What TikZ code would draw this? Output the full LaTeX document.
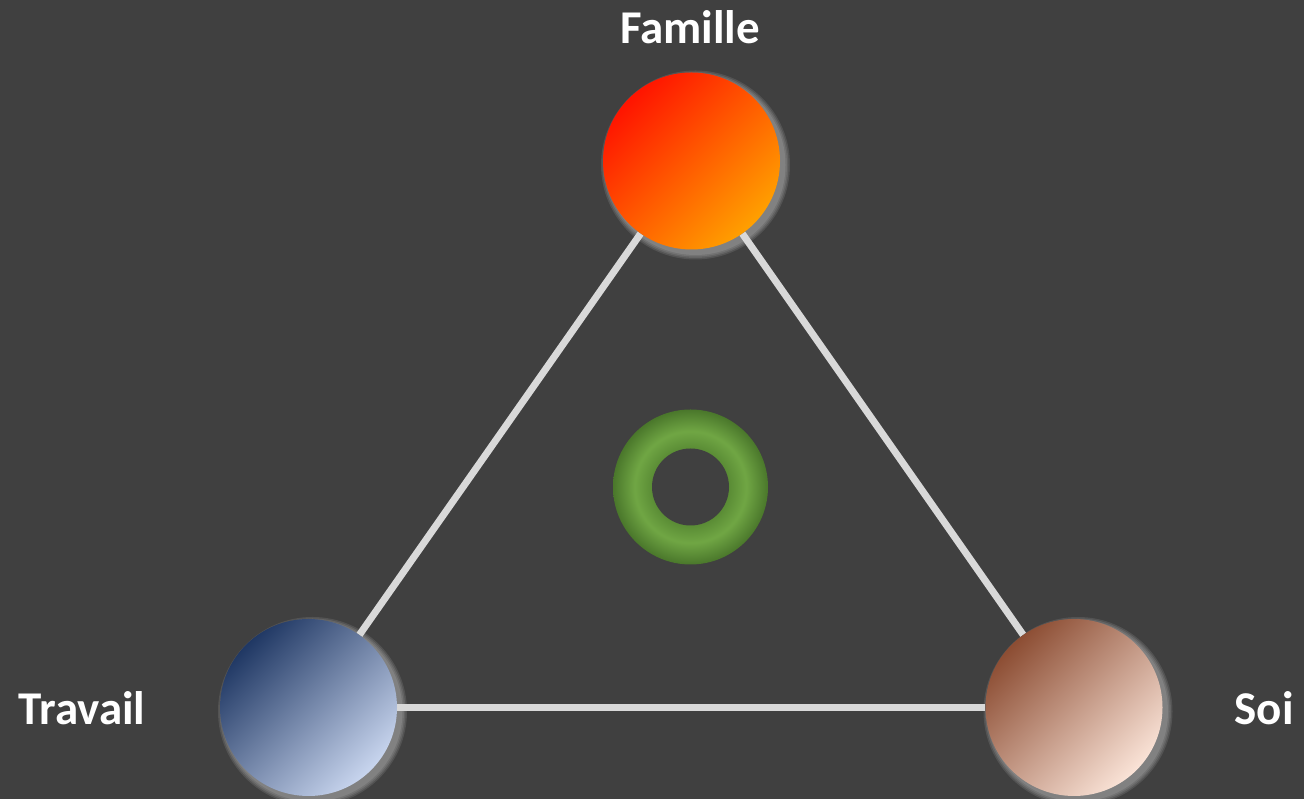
\documentclass[tikz,border=0pt]{standalone}
\usepackage{fontspec}
\setmainfont{Carlito}
\usetikzlibrary{backgrounds}
\definecolor{BgGrey}{HTML}{404040}
\definecolor{LinkGrey}{HTML}{D9D9D9}
\definecolor{FamRed}{HTML}{FF1400}
\definecolor{FamOrange}{HTML}{FFA000}
\definecolor{TravDark}{HTML}{203864}
\definecolor{TravLight}{HTML}{C8D5EE}
\definecolor{SoiDark}{HTML}{8C4D33}
\definecolor{SoiLight}{HTML}{FAE3D7}
\definecolor{RingDark}{HTML}{4A772B}
\definecolor{RingMid}{HTML}{5A8C35}
\definecolor{RingLight}{HTML}{70A644}
\pgfdeclareradialshading{greenring}{\pgfpoint{0bp}{0bp}}{%
  color(0bp)=(RingMid); color(12.4bp)=(RingMid); color(18bp)=(RingLight);
  color(25bp)=(RingDark); color(50bp)=(RingDark)}
\begin{document}
\begin{tikzpicture}[
      x=1pt, y=1pt,
      ball/.style={circle, inner sep=0pt, minimum size=177pt},
      tilt/.style={shading angle=45},
      link/.style={line width=7pt, LinkGrey},
      lbl/.style={text=white, font=\fontsize{47}{56}\selectfont\bfseries}
    ]
    \useasboundingbox (0,0) rectangle (1304,799);
    \node[ball, left color=FamRed,  right color=FamOrange, tilt] (fam)  at (691.5,638) {};
    \node[ball, left color=TravDark, right color=TravLight, tilt] (trav) at (308.5,91.5) {};
    \node[ball, left color=SoiDark,  right color=SoiLight, tilt]  (soi)  at (1074,91.5) {};
    \node[circle, inner sep=0pt, minimum size=155pt, shading=greenring] (core) at (690.5,312) {};
    \fill[BgGrey] (core.center) circle (38.5);

    \node[lbl] (famlbl)  at (690,772) {Famille};
    \node[lbl] (travlbl) at (82,91)   {Travail};
    \node[lbl] (soilbl)  at (1264,91) {Soi};

    % glow and links behind the balls
    \begin{scope}[on background layer]
      \fill[BgGrey] (0,0) rectangle (1304,799);
      \foreach \n in {fam,trav,soi}
        \foreach \r in {6,4.5,3,1.5}
          \fill[white, opacity=0.1] ([shift={(4,-4)}]\n.center) circle (88.5+\r);
      \draw[link] (fam) -- (trav);
      \draw[link] (fam) -- (soi);
      \draw[link] (trav) -- (soi);
    \end{scope}
  \end{tikzpicture}
\end{document}
